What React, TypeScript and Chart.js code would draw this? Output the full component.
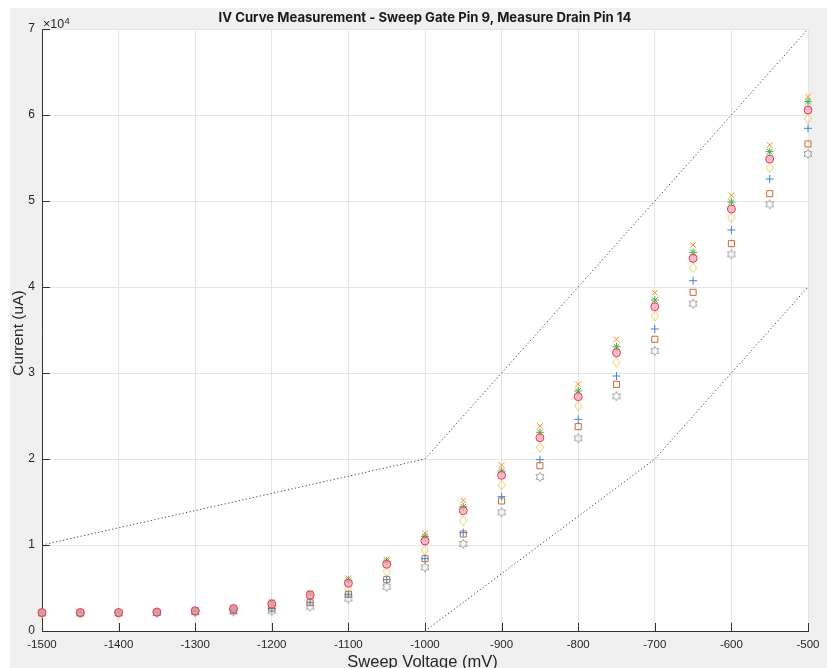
import React, { useEffect, useRef } from "react";
import { Chart, registerables } from "chart.js";

Chart.register(...registerables);

// ---------- data ----------
const sweepVoltage = [-1500, -1450, -1400, -1350, -1300, -1250, -1200, -1150, -1100, -1050, -1000, -950, -900, -850, -800, -750, -700, -650, -600, -550, -500];

const currentCircle = [2150, 2150, 2150, 2200, 2350, 2600, 3140, 4190, 5550, 7760, 10470, 13990, 18100, 22480, 27250, 32360, 37710, 43330, 49070, 54880, 60580];
const currentPlus = [2100, 2100, 2100, 2150, 2250, 2400, 2600, 3340, 4270, 5970, 8410, 11430, 15620, 19920, 24610, 29650, 35120, 40730, 46630, 52560, 58450];
const currentStar = [2150, 2150, 2150, 2200, 2380, 2650, 3300, 4300, 5900, 8100, 11000, 14460, 18600, 23100, 27910, 33060, 38490, 44030, 49880, 55740, 61550];
const currentCross = [2150, 2150, 2150, 2200, 2400, 2700, 3400, 4450, 6130, 8340, 11360, 15200, 19300, 23840, 28680, 33920, 39340, 44900, 50660, 56510, 62130];
const currentSquare = [2100, 2100, 2100, 2150, 2250, 2400, 2650, 3300, 4270, 5970, 8410, 11280, 15120, 19220, 23760, 28680, 33920, 39380, 45040, 50850, 56630];
const currentDiamond = [2100, 2100, 2100, 2150, 2300, 2500, 2900, 3800, 4850, 6940, 9420, 12830, 16980, 21360, 26160, 31240, 36630, 42250, 48060, 53880, 59600];
const currentHexagram = [2050, 2050, 2050, 2100, 2200, 2250, 2350, 2830, 3760, 5150, 7400, 10120, 13800, 17910, 22400, 27290, 32560, 38060, 43800, 49610, 55470];

const guideUpperX = [-1500, -1000, -500];
const guideUpperY = [10000, 20000, 70000];
const guideLowerX = [-1000, -700, -500];
const guideLowerY = [0, 20000, 40000];

const xTickValues = [-1500, -1400, -1300, -1200, -1100, -1000, -900, -800, -700, -600, -500];
const yTickLabels = ["0", "1", "2", "3", "4", "5", "6", "7"];

const titleText = "IV Curve Measurement - Sweep Gate Pin 9, Measure Drain Pin 14";
const xLabelText = "Sweep Voltage (mV)";
const yLabelText = "Current (uA)";

const W = 817;
const H = 680;

function toPoints(xs: number[], ys: number[]) {
  return xs.map((x, i) => ({ x, y: ys[i] }));
}

function makeHexagram(color: string): HTMLCanvasElement {
  const c = document.createElement("canvas");
  c.width = 12;
  c.height = 12;
  const ctx = c.getContext("2d")!;
  const cx = 6, cy = 6, R = 4.6, r = R / Math.sqrt(3);
  ctx.beginPath();
  for (let i = 0; i < 12; i++) {
    const ang = -Math.PI / 2 + (i * Math.PI) / 6;
    const rad = i % 2 === 0 ? R : r;
    const px = cx + rad * Math.cos(ang);
    const py = cy + rad * Math.sin(ang);
    if (i === 0) ctx.moveTo(px, py);
    else ctx.lineTo(px, py);
  }
  ctx.closePath();
  ctx.strokeStyle = color;
  ctx.lineWidth = 1;
  ctx.stroke();
  return c;
}

function makeDiamond(color: string): HTMLCanvasElement {
  const c = document.createElement("canvas");
  c.width = 10;
  c.height = 12;
  const ctx = c.getContext("2d")!;
  ctx.beginPath();
  ctx.moveTo(5, 1);
  ctx.lineTo(8.6, 6);
  ctx.lineTo(5, 11);
  ctx.lineTo(1.4, 6);
  ctx.closePath();
  ctx.strokeStyle = color;
  ctx.lineWidth = 1;
  ctx.stroke();
  return c;
}

const decorPlugin = {
  id: "decor",
  beforeDraw(chart: any) {
    const { ctx, chartArea: a } = chart;
    ctx.save();
    ctx.fillStyle = "#ffffff";
    ctx.fillRect(a.left, a.top, a.right - a.left, a.bottom - a.top);
    ctx.restore();
  },
  afterDraw(chart: any) {
    const { ctx, chartArea: a, scales } = chart;
    ctx.save();
    ctx.strokeStyle = "#333333";
    ctx.lineWidth = 1;
    // inward ticks
    xTickValues.forEach((v) => {
      const px = Math.round(scales.x.getPixelForValue(v)) + 0.5;
      ctx.beginPath();
      ctx.moveTo(px, a.bottom);
      ctx.lineTo(px, a.bottom - 8);
      ctx.stroke();
    });
    yTickLabels.forEach((_, i) => {
      const py = Math.round(scales.y.getPixelForValue(i * 10000)) + 0.5;
      ctx.beginPath();
      ctx.moveTo(a.left, py);
      ctx.lineTo(a.left + 8, py);
      ctx.stroke();
    });

    // title
    ctx.fillStyle = "#1a1a1a";
    let size = 13;
    ctx.font = `bold ${size}px Inter, "Open Sans", sans-serif`;
    const w = ctx.measureText(titleText).width;
    size = (size * 413) / w;
    ctx.font = `bold ${size.toFixed(2)}px Inter, "Open Sans", sans-serif`;
    ctx.textAlign = "center";
    ctx.textBaseline = "middle";
    ctx.fillText(titleText, (a.left + a.right) / 2, 10.5);

    // x label
    ctx.fillStyle = "#262626";
    ctx.font = `16.5px "Liberation Sans", Arial, sans-serif`;
    ctx.textAlign = "center";
    ctx.textBaseline = "alphabetic";
    ctx.fillText(xLabelText, 412.5, 659);

    // y label
    ctx.save();
    ctx.translate(9, (a.top + a.bottom) / 2 + 3);
    ctx.rotate(-Math.PI / 2);
    ctx.font = `15.5px "Liberation Sans", Arial, sans-serif`;
    ctx.textAlign = "center";
    ctx.textBaseline = "middle";
    ctx.fillText(yLabelText, 0, 0);
    ctx.restore();

    // exponent label
    ctx.font = `12.5px "Liberation Sans", Arial, sans-serif`;
    ctx.textAlign = "left";
    ctx.textBaseline = "alphabetic";
    ctx.fillText("\u00d710", a.left + 1, 19.8);
    const ew = ctx.measureText("\u00d710").width;
    ctx.font = `9.5px "Liberation Sans", Arial, sans-serif`;
    ctx.fillText("4", a.left + 1 + ew + 0.3, 15.5);

    ctx.restore();
  },
};

export default function App() {
  const canvasRef = useRef<HTMLCanvasElement | null>(null);

  useEffect(() => {
    const canvas = canvasRef.current;
    if (!canvas) return;
    const hexImg = makeHexagram("#a0a0a0");
    const diaImg = makeDiamond("#e9cd66");

    const scatterBase = {
      type: "scatter" as const,
      showLine: false,
      pointBorderWidth: 1,
      clip: false,
    };

    const chart = new Chart(canvas, {
      type: "scatter",
      data: {
        datasets: [
          {
            ...scatterBase,
            label: "o",
            data: toPoints(sweepVoltage, currentCircle),
            pointStyle: "circle",
            pointRadius: 4,
            borderColor: "#ec3a58",
            backgroundColor: "rgba(246,160,184,0.7)",
          },
          {
            ...scatterBase,
            label: "+",
            data: toPoints(sweepVoltage, currentPlus),
            pointStyle: "cross",
            pointRadius: 4,
            borderColor: "#3f85d4",
            backgroundColor: "#3f85d4",
          },
          {
            ...scatterBase,
            label: "*",
            data: toPoints(sweepVoltage, currentStar),
            pointStyle: "star",
            pointRadius: 4,
            borderColor: "#4cae4c",
            backgroundColor: "#4cae4c",
          },
          {
            ...scatterBase,
            label: "x",
            data: toPoints(sweepVoltage, currentCross),
            pointStyle: "crossRot",
            pointRadius: 4,
            borderColor: "#ff8a1c",
            backgroundColor: "#ff8a1c",
          },
          {
            ...scatterBase,
            label: "s",
            data: toPoints(sweepVoltage, currentSquare),
            pointStyle: "rect",
            pointRadius: 4.3,
            borderColor: "#c46a3a",
            backgroundColor: "rgba(255,255,255,0)",
          },
          {
            ...scatterBase,
            label: "d",
            data: toPoints(sweepVoltage, currentDiamond),
            pointStyle: diaImg as any,
            pointRadius: 5,
            borderColor: "#e9cd66",
            backgroundColor: "rgba(255,255,255,0)",
          },
          {
            ...scatterBase,
            label: "h",
            data: toPoints(sweepVoltage, currentHexagram),
            pointStyle: hexImg as any,
            pointRadius: 5,
            borderColor: "#a0a0a0",
            backgroundColor: "rgba(255,255,255,0)",
          },
          {
            type: "line" as const,
            label: "upper",
            data: toPoints(guideUpperX, guideUpperY),
            borderColor: "rgba(45,45,45,0.9)",
            borderWidth: 1,
            borderDash: [1.2, 2.4],
            pointRadius: 0,
            fill: false,
            tension: 0,
          },
          {
            type: "line" as const,
            label: "lower",
            data: toPoints(guideLowerX, guideLowerY),
            borderColor: "rgba(45,45,45,0.9)",
            borderWidth: 1,
            borderDash: [1.2, 2.4],
            pointRadius: 0,
            fill: false,
            tension: 0,
          },
        ] as any,
      },
      options: {
        animation: false,
        responsive: false,
        devicePixelRatio: 1,
        events: [],
        layout: { padding: { top: 21, right: 19, left: 0, bottom: 0 } },
        plugins: {
          legend: { display: false },
          tooltip: { enabled: false },
          title: { display: false },
        },
        scales: {
          x: {
            type: "linear",
            min: -1500,
            max: -500,
            afterFit: (scale: any) => {
              scale.height = 57;
            },
            afterBuildTicks: (scale: any) => {
              scale.ticks = xTickValues.map((v) => ({ value: v }));
            },
            ticks: {
              callback: (v: any) => String(v),
              color: "#262626",
              font: { family: '"Liberation Sans", Arial, sans-serif', size: 11.5 },
              padding: 7,
              maxRotation: 0,
              autoSkip: false,
            },
            grid: { color: "#e5e5e5", drawTicks: false, lineWidth: 1 },
            border: { display: true, color: "#333333", width: 1 },
          },
          y: {
            type: "linear",
            min: 0,
            max: 70000,
            afterFit: (scale: any) => {
              scale.width = 32;
            },
            afterBuildTicks: (scale: any) => {
              scale.ticks = yTickLabels.map((_, i) => ({ value: i * 10000 }));
            },
            ticks: {
              callback: (v: any) => yTickLabels[Math.round(Number(v) / 10000)] ?? "",
              color: "#262626",
              font: { family: '"Liberation Sans", Arial, sans-serif', size: 12 },
              padding: 7,
              autoSkip: false,
            },
            grid: { color: "#e5e5e5", drawTicks: false, lineWidth: 1 },
            border: { display: true, color: "#333333", width: 1 },
          },
        },
      } as any,
      plugins: [decorPlugin],
    });

    return () => {
      chart.destroy();
    };
  }, []);

  return (
    <div
      style={{
        position: "fixed",
        left: 10,
        top: 8,
        width: W,
        height: H,
        background: "#f0f0f0",
      }}
    >
      <canvas ref={canvasRef} width={W} height={H} style={{ display: "block" }} />
    </div>
  );
}
